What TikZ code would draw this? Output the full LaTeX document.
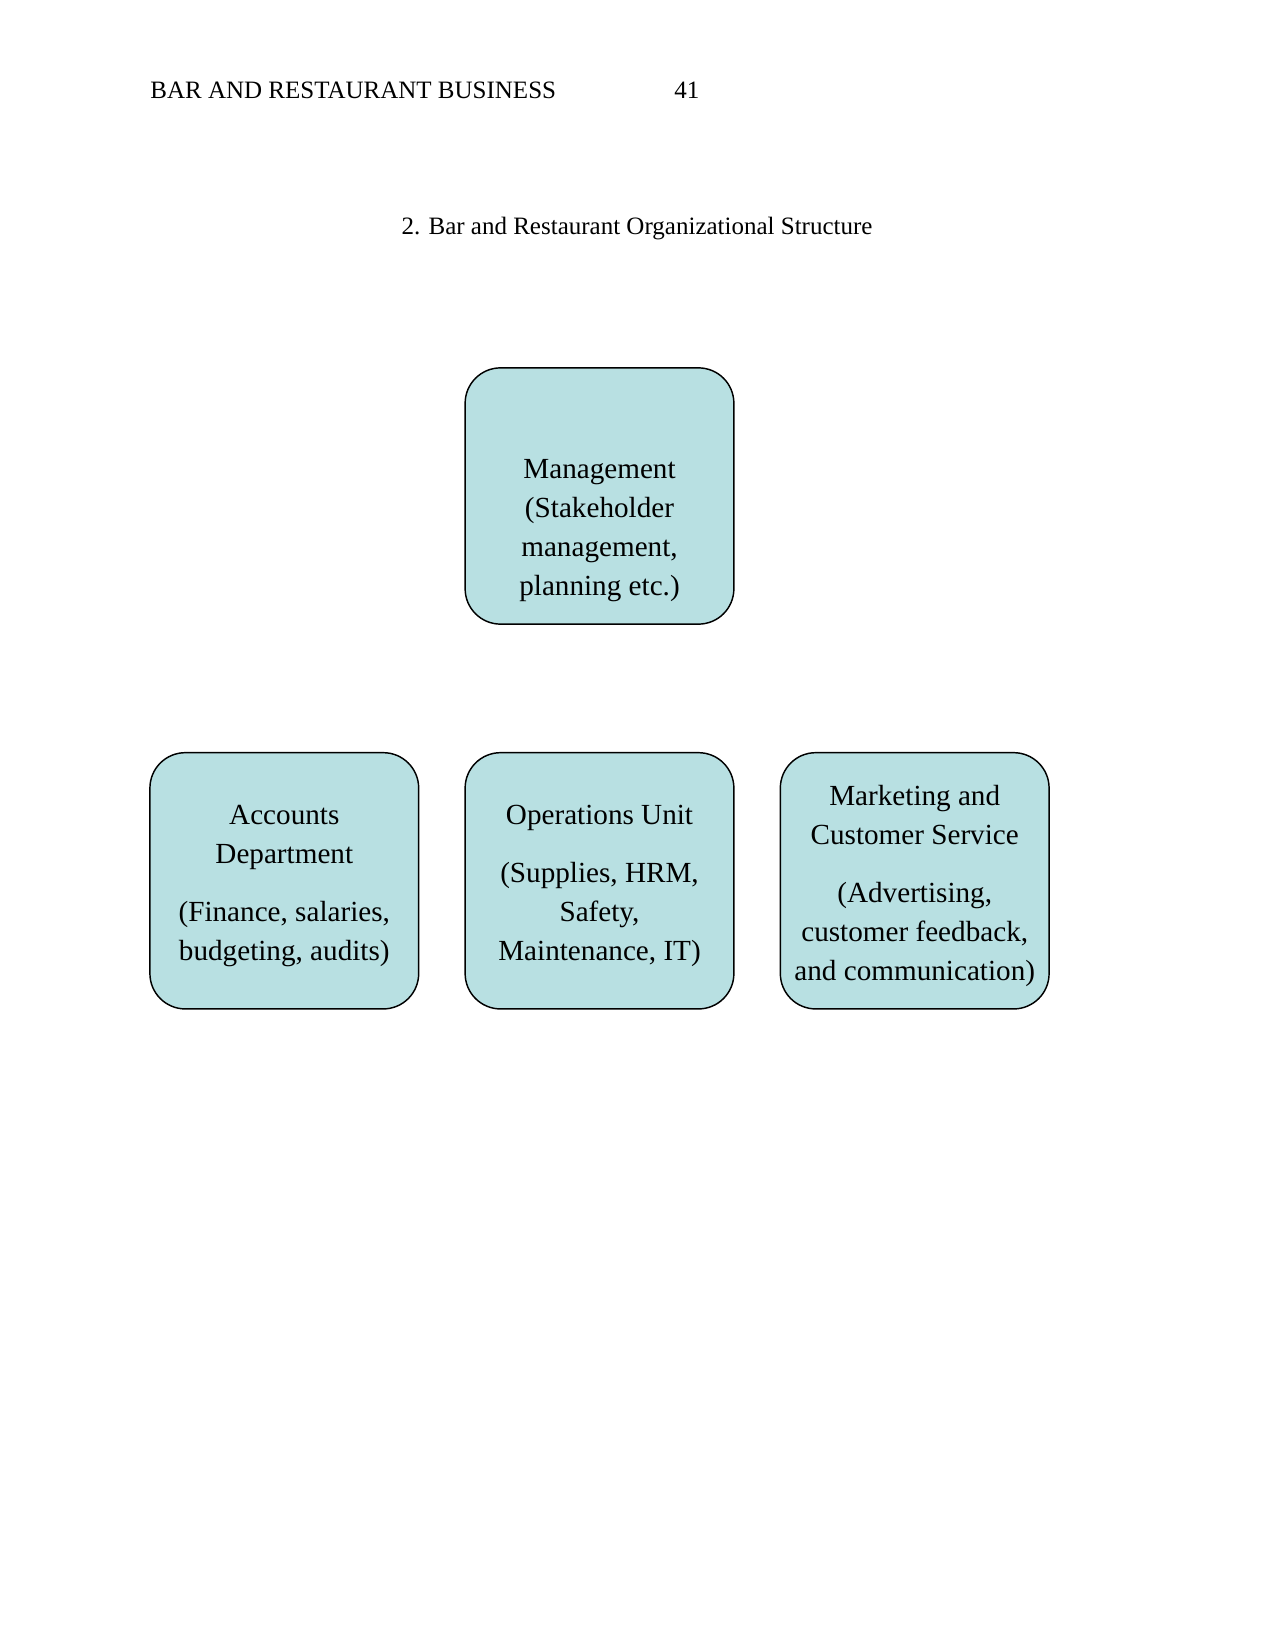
\documentclass[tikz,border=0pt]{standalone}
\usepackage{fontspec}
\setmainfont{Liberation Serif}
\usetikzlibrary{positioning}
\definecolor{boxteal}{RGB}{184,224,226}

\begin{document}
\begin{tikzpicture}[
		x=0.48pt, y=-0.48pt,
		orgbox/.style={draw, line width=0.7pt, fill=boxteal, rounded corners=17pt, minimum width=129pt, minimum height=123pt},
		boxtext/.style={align=center, font=\fontsize{14}{18.7}\selectfont},
		pagetext/.style={anchor=base west, inner sep=0pt, font=\fontsize{12}{14}\selectfont}
		]
		\useasboundingbox (0,0) rectangle (1275,1650);
		\node[pagetext] (runhead) at (150,99) {BAR AND RESTAURANT BUSINESS};
		\node[pagetext] (pagenum) at (674,99) {41};
		\node[pagetext, anchor=base] (title) at (637,235) {2. Bar and Restaurant Organizational Structure};
		
		\node[orgbox] (mgmt) at (599.5,496) {};
		\node[orgbox, below=61pt of mgmt] (ops) {};
		\node[orgbox, left=21.6pt of ops] (acct) {};
		\node[orgbox, right=21.6pt of ops] (mkt) {};
		
		\node[boxtext] (mgmtlbl) at ([yshift=-16.5pt]mgmt.center) {Management\\(Stakeholder\\management,\\planning etc.)};
		\node[boxtext] (acctlbl) at ([yshift=-2.5pt]acct.center) {Accounts\\Department\\[9pt](Finance, salaries,\\budgeting, audits)};
		\node[boxtext] (opslbl) at ([yshift=-2.5pt]ops.center) {Operations Unit\\[9pt](Supplies, HRM,\\Safety,\\Maintenance, IT)};
		\node[boxtext] (mktlbl) at ([yshift=-2.5pt]mkt.center) {Marketing and\\Customer Service\\[9pt](Advertising,\\customer feedback,\\and communication)};
	\end{tikzpicture}
\end{document}
